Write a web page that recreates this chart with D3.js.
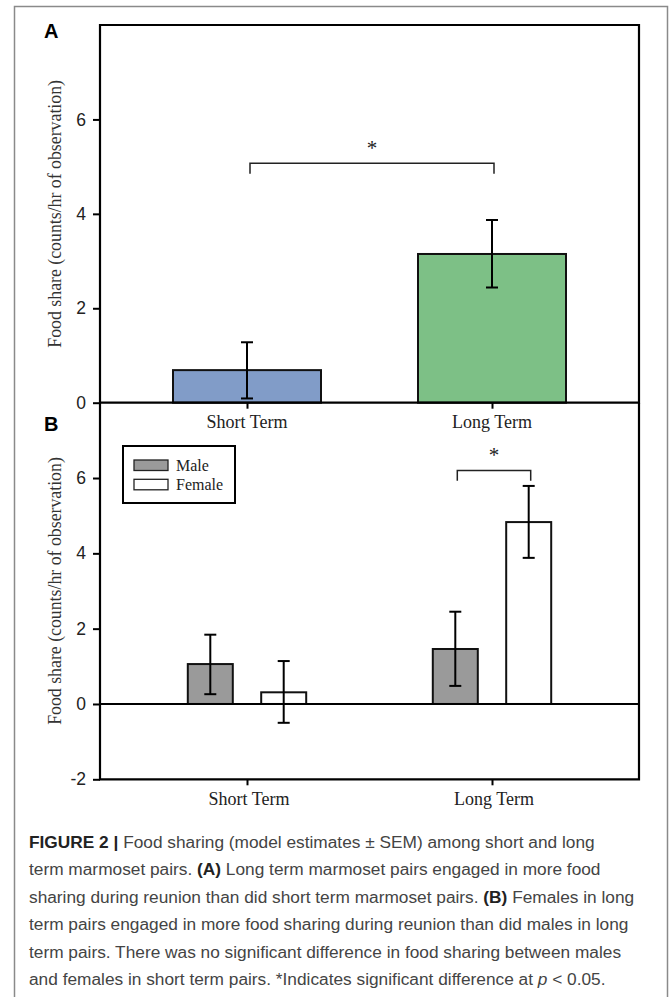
<!DOCTYPE html>
<html>
<head>
<meta charset="utf-8">
<script src="https://cdn.jsdelivr.net/npm/d3@7"></script>
<style>
  body { margin: 0; background: #fff; }
  svg { display: block; }
</style>
</head>
<body>
<svg id="fig"></svg>
<script>
// panel A: pair type means and SEM
const termTypes = ["Short Term", "Long Term"];
const pairMeans = [0.69, 3.15];
const pairErrLow = [0.09, 2.44];
const pairErrHigh = [1.28, 3.87];
const pairColors = ["#819cc8", "#7dc086"];

// panel B: by sex within pair type
const sexes = ["Male", "Female"];
const maleMeans = [1.06, 1.46];
const maleErrLow = [0.26, 0.48];
const maleErrHigh = [1.84, 2.45];
const femaleMeans = [0.31, 4.83];
const femaleErrLow = [-0.5, 3.88];
const femaleErrHigh = [1.14, 5.79];
const sexColors = ["#9a9a9a", "#ffffff"];

const ticksA = [0, 2, 4, 6];
const ticksB = [-2, 0, 2, 4, 6];

const captionLines = [
  [["b", "FIGURE 2 | "], ["n", "Food sharing (model estimates \u00b1 SEM) among short and long"]],
  [["n", "term marmoset pairs. "], ["b", "(A)"], ["n", " Long term marmoset pairs engaged in more food"]],
  [["n", "sharing during reunion than did short term marmoset pairs. "], ["b", "(B)"], ["n", " Females in long"]],
  [["n", "term pairs engaged in more food sharing during reunion than did males in long"]],
  [["n", "term pairs. There was no significant difference in food sharing between males"]],
  [["n", "and females in short term pairs. *Indicates significant difference at "], ["i", "p"], ["n", " < 0.05."]],
];

const width = 669;
const height = 997;
const left = 100, right = 639;
const serif = "'Liberation Serif', 'Times New Roman', serif";
const sans = "'Liberation Sans', Arial, sans-serif";

const svg = d3.select("#fig").attr("width", width).attr("height", height);

svg.append("rect")
  .attr("x", 14.5).attr("y", 6.5)
  .attr("width", 653).attr("height", 1000)
  .attr("fill", "none").attr("stroke", "#8a8a8a").attr("stroke-width", 1.5);

const x = d3.scalePoint(termTypes, [left, right]).padding(0.6);
const yA = d3.scaleLinear([0, 8], [402.7, 25]);
const yB = d3.scaleLinear([-2, 8], [779.3, 402.7]);

function styleAxis(g) {
  g.select(".domain").remove();
  g.selectAll(".tick line").attr("stroke", "#000").attr("stroke-width", 2);
  g.selectAll(".tick text")
    .style("font-family", sans).style("font-size", "17.5px").attr("fill", "#222");
}

function errorBar(g, cx, y, lo, hi, cap) {
  const p = g.append("g").attr("stroke", "#000").attr("stroke-width", 2).attr("fill", "none");
  p.append("line").attr("x1", cx).attr("x2", cx).attr("y1", y(lo)).attr("y2", y(hi));
  p.append("line").attr("x1", cx - cap / 2).attr("x2", cx + cap / 2).attr("y1", y(lo)).attr("y2", y(lo));
  p.append("line").attr("x1", cx - cap / 2).attr("x2", cx + cap / 2).attr("y1", y(hi)).attr("y2", y(hi));
}

function bracket(g, x1, x2, y, top, foot, star) {
  g.append("path")
    .attr("d", `M${x1},${y(foot)}V${y(top)}H${x2}V${y(foot)}`)
    .attr("fill", "none").attr("stroke", "#222").attr("stroke-width", 1.5);
  g.append("text")
    .attr("x", (x1 + x2) / 2).attr("y", y(top) - 8)
    .attr("text-anchor", "middle")
    .style("font-family", serif).style("font-size", "21px").attr("fill", "#222")
    .text(star);
}

function yTitle(cy) {
  svg.append("text")
    .attr("transform", `translate(61,${cy}) rotate(-90)`)
    .attr("text-anchor", "middle")
    .style("font-family", serif).style("font-size", "17.8px").attr("fill", "#333")
    .text("Food share (counts/hr of observation)");
}

const fmt = (d) => String(d);

// ---------- panel A ----------
const gA = svg.append("g");
const bwA = 148;

gA.selectAll("rect.bar")
  .data(termTypes)
  .join("rect")
  .attr("class", "bar")
  .attr("x", (d) => x(d) - bwA / 2)
  .attr("y", (d, i) => yA(pairMeans[i]))
  .attr("width", bwA)
  .attr("height", (d, i) => yA(0) - yA(pairMeans[i]))
  .attr("fill", (d, i) => pairColors[i])
  .attr("stroke", "#111").attr("stroke-width", 2);

termTypes.forEach((d, i) => errorBar(gA, x(d), yA, pairErrLow[i], pairErrHigh[i], 12));

bracket(gA, x(termTypes[0]) + 3, x(termTypes[1]) + 2, yA, 5.07, 4.85, "*");

gA.append("g")
  .attr("transform", `translate(${left},0)`)
  .call(d3.axisLeft(yA).tickValues(ticksA).tickFormat(fmt).tickSize(7).tickPadding(7))
  .call(styleAxis);

gA.append("g")
  .attr("transform", `translate(0,${yA(0)})`)
  .call(d3.axisBottom(x).tickSize(6).tickFormat(() => ""))
  .call(styleAxis);

gA.append("path")
  .attr("d", `M${left},${yA(0)}V${yA(8)}H${right}V${yA(0)}Z`)
  .attr("fill", "none").attr("stroke", "#000").attr("stroke-width", 2.2);

gA.selectAll("text.cat")
  .data(termTypes)
  .join("text")
  .attr("class", "cat")
  .attr("x", (d) => x(d))
  .attr("y", 428)
  .attr("text-anchor", "middle")
  .style("font-family", serif).style("font-size", "18px").attr("fill", "#222")
  .text((d) => d);

yTitle((yA(0) + yA(8)) / 2);

svg.append("text")
  .attr("x", 44).attr("y", 38)
  .style("font-family", sans).style("font-weight", "bold").style("font-size", "20px")
  .text("A");

// ---------- panel B ----------
const gB = svg.append("g");
const xs = d3.scalePoint(sexes, [-36.7, 36.7]);
const bwB = 45;

const rows = [];
termTypes.forEach((t, i) => {
  rows.push({ term: t, sex: "Male", mean: maleMeans[i], lo: maleErrLow[i], hi: maleErrHigh[i] });
  rows.push({ term: t, sex: "Female", mean: femaleMeans[i], lo: femaleErrLow[i], hi: femaleErrHigh[i] });
});

gB.selectAll("rect.bar")
  .data(rows)
  .join("rect")
  .attr("class", "bar")
  .attr("x", (d) => x(d.term) + xs(d.sex) - bwB / 2)
  .attr("y", (d) => yB(Math.max(0, d.mean)))
  .attr("width", bwB)
  .attr("height", (d) => Math.abs(yB(0) - yB(d.mean)))
  .attr("fill", (d) => sexColors[sexes.indexOf(d.sex)])
  .attr("stroke", "#111").attr("stroke-width", 2);

rows.forEach((d) => errorBar(gB, x(d.term) + xs(d.sex), yB, d.lo, d.hi, 12));

bracket(gB, x(termTypes[1]) + xs("Male") + 2, x(termTypes[1]) + xs("Female") + 2, yB, 6.2, 5.93, "*");

gB.append("g")
  .attr("transform", `translate(${left},0)`)
  .call(d3.axisLeft(yB).tickValues(ticksB).tickFormat(fmt).tickSize(7).tickPadding(7))
  .call(styleAxis);

gB.append("g")
  .attr("transform", `translate(0,${yB(-2)})`)
  .call(d3.axisBottom(x).tickSize(6).tickFormat(() => ""))
  .call(styleAxis);

gB.append("path")
  .attr("d", `M${left},${yB(8)}V${yB(-2)}H${right}V${yB(8)}`)
  .attr("fill", "none").attr("stroke", "#000").attr("stroke-width", 2.2);

gB.append("line")
  .attr("x1", left).attr("x2", right)
  .attr("y1", yB(0)).attr("y2", yB(0))
  .attr("stroke", "#000").attr("stroke-width", 2);

gB.selectAll("text.cat")
  .data(termTypes)
  .join("text")
  .attr("class", "cat")
  .attr("x", (d) => x(d) + 2)
  .attr("y", 805)
  .attr("text-anchor", "middle")
  .style("font-family", serif).style("font-size", "18px").attr("fill", "#222")
  .text((d) => d);

yTitle((yB(-2) + yB(8)) / 2);

svg.append("text")
  .attr("x", 44).attr("y", 431)
  .style("font-family", sans).style("font-weight", "bold").style("font-size", "20px")
  .text("B");

// legend
const lg = svg.append("g").attr("transform", "translate(123,446)");
lg.append("rect")
  .attr("width", 112).attr("height", 57)
  .attr("fill", "#fff").attr("stroke", "#000").attr("stroke-width", 2);
sexes.forEach((s, i) => {
  lg.append("rect")
    .attr("x", 11).attr("y", 14 + i * 19.3)
    .attr("width", 34).attr("height", 10.5)
    .attr("fill", sexColors[i]).attr("stroke", "#222").attr("stroke-width", 1.3);
  lg.append("text")
    .attr("x", 53).attr("y", 24.5 + i * 19.3)
    .style("font-family", serif).style("font-size", "16px").attr("fill", "#222")
    .text(s);
});

// caption
const cap = svg.append("g")
  .style("font-family", sans).style("font-size", "17.3px").attr("fill", "#444");
captionLines.forEach((parts, i) => {
  const t = cap.append("text").attr("x", 29).attr("y", 848 + i * 27.4);
  parts.forEach(([k, s]) => {
    const ts = t.append("tspan").text(s);
    if (k === "b") ts.style("font-weight", "bold").attr("fill", "#222");
    if (k === "i") ts.style("font-style", "italic");
  });
});
</script>
</body>
</html>
